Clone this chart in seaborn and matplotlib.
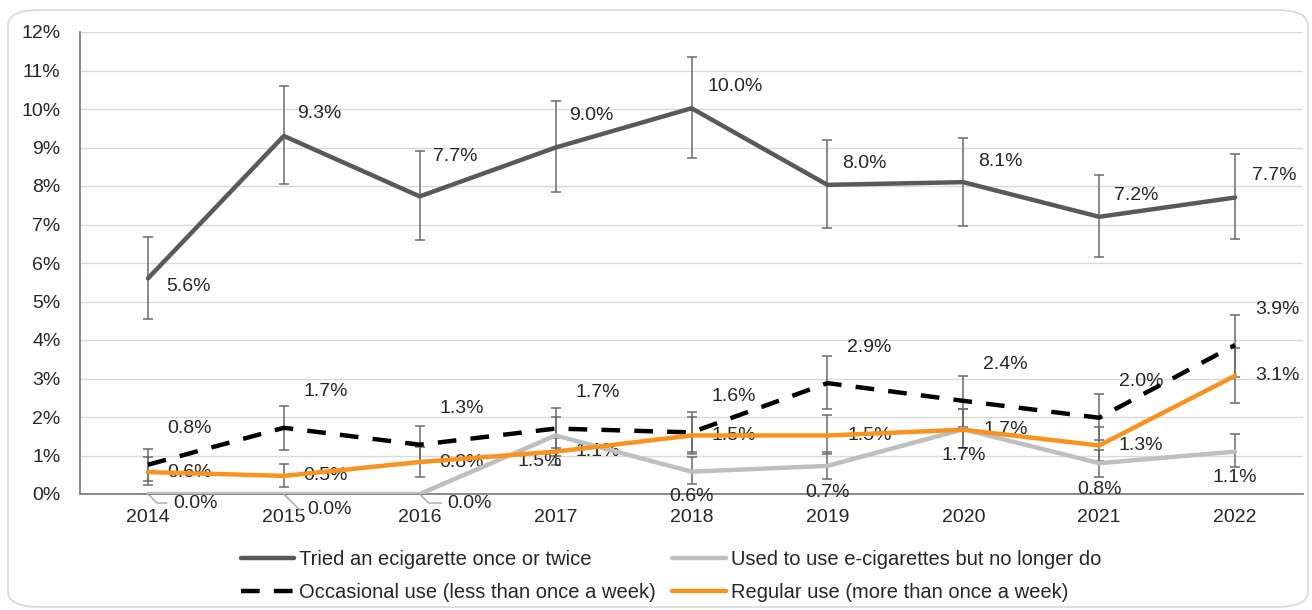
import matplotlib
matplotlib.use('Agg')

import numpy as np
import pandas as pd
import seaborn as sns
import matplotlib.pyplot as plt
from matplotlib.patches import FancyBboxPatch

years = ['2014', '2015', '2016', '2017', '2018', '2019', '2020', '2021', '2022']

tried = [5.6, 9.3, 7.73, 9.0, 10.02, 8.03, 8.1, 7.2, 7.7]
tried_lo = [4.55, 8.05, 6.6, 7.84, 8.73, 6.9, 6.96, 6.16, 6.62]
tried_hi = [6.68, 10.6, 8.9, 10.2, 11.35, 9.2, 9.25, 8.29, 8.83]

used_to = [0.0, 0.0, 0.0, 1.52, 0.58, 0.73, 1.68, 0.8, 1.1]
used_lo = [0.0, 0.0, 0.0, 1.0, 0.25, 0.4, 1.2, 0.45, 0.7]
used_hi = [0.0, 0.0, 0.0, 2.0, 0.95, 1.1, 2.2, 1.15, 1.56]

occasional = [0.76, 1.72, 1.28, 1.7, 1.6, 2.88, 2.42, 1.98, 3.87]
occ_lo = [0.35, 1.14, 0.8, 1.2, 1.1, 2.2, 1.75, 1.4, 3.05]
occ_hi = [1.17, 2.29, 1.77, 2.23, 2.13, 3.58, 3.06, 2.6, 4.65]

regular = [0.57, 0.47, 0.83, 1.1, 1.52, 1.52, 1.67, 1.26, 3.07]
reg_lo = [0.23, 0.18, 0.44, 0.75, 1.05, 1.05, 1.2, 0.85, 2.36]
reg_hi = [0.95, 0.78, 1.22, 1.45, 2.0, 2.05, 2.2, 1.74, 3.79]

names = ['Tried an ecigarette once or twice',
         'Used to use e-cigarettes but no longer do',
         'Occasional use (less than once a week)',
         'Regular use (more than once a week)']

sns.set_style('white')
plt.rcParams['font.family'] = ['Liberation Sans', 'DejaVu Sans']

fig = plt.figure(figsize=(13.12, 6.10), dpi=100)
ax = fig.add_axes([80 / 1312, 1 - 494 / 610, (1303 - 80) / 1312, (494 - 32) / 610])

# outer rounded frame
frame = FancyBboxPatch((8 / 1312, 3 / 610), 1300 / 1312, 597 / 610,
                       boxstyle='round,pad=0,rounding_size=0.025',
                       transform=fig.transFigure, fill=False,
                       edgecolor='#D9D9D9', lw=1.2, zorder=0)
fig.patches.append(frame)

x = np.arange(len(years))
series = [
    (names[0], tried, tried_lo, tried_hi, '#595959', '-'),
    (names[1], used_to, used_lo, used_hi, '#BFBFBF', '-'),
    (names[2], occasional, occ_lo, occ_hi, '#000000', '--'),
    (names[3], regular, reg_lo, reg_hi, '#F7931E', '-'),
]

for name, vals, lo, hi, col, ls in series:
    vals = np.array(vals)
    err = [vals - np.array(lo), np.array(hi) - vals]
    ax.errorbar(x, vals, yerr=err, fmt='none', ecolor='#6b6b6b',
                elinewidth=1.1, capsize=3.5, capthick=1.1, zorder=2)

draw_order = [1, 3, 2, 0]
for i in draw_order:
    name, vals, lo, hi, col, ls = series[i]
    df = pd.DataFrame({'x': x, 'y': vals})
    sns.lineplot(data=df, x='x', y='y', ax=ax, color=col, lw=3.2,
                 label=name, zorder=3 + i)
    if ls == '--':
        ax.lines[-1].set_dashes((4.2, 3.2))

# data labels
fs = 14
tried_off = [(18, -8), (13, 22), (13, 40), (14, 32), (16, 22), (15, 21), (15, 21), (15, 21), (17, 22)]
for xi, v, off in zip(x, tried, tried_off):
    ax.annotate(f'{v:.1f}%', (xi, v), xytext=off, textcoords='offset pixels',
                ha='left', va='center', fontsize=fs)

for xi, v in zip(x, occasional):
    ax.annotate(f'{v:.1f}%', (xi, v), xytext=(42, 36), textcoords='offset pixels',
                ha='center', va='center', fontsize=fs)

for xi, v in zip(x, regular):
    ax.annotate(f'{v:.1f}%', (xi, v), xytext=(42, 0), textcoords='offset pixels',
                ha='center', va='center', fontsize=fs)

used_off = [(25, -9), (23, -16), (28, -9), (-16, -26), (0, -25), (0, -27), (0, -26), (0, -26), (0, -26)]
for xi, v, off in zip(x, used_to, used_off):
    if v == 0:
        ax.annotate(f'{v:.1f}%', (xi, v), xytext=off, textcoords='offset pixels',
                    ha='left', va='center', fontsize=fs,
                    arrowprops=dict(arrowstyle='-', color='#A6A6A6', lw=1,
                                    shrinkA=2, shrinkB=0, relpos=(0, 0.5),
                                    connectionstyle='angle,angleA=0,angleB=-45,rad=0'))
    else:
        ax.annotate(f'{v:.1f}%', (xi, v), xytext=off, textcoords='offset pixels',
                    ha='center', va='center', fontsize=fs)

ax.set_xlim(-0.5, len(years) - 0.5)
ax.set_ylim(0, 12)
ax.set_yticks(np.arange(0, 13, 1))
ax.set_yticklabels([f'{t}%' for t in range(13)], fontsize=fs)
ax.set_xticks(x)
ax.set_xticklabels(years, fontsize=fs)
ax.set_xlabel('')
ax.set_ylabel('')
ax.yaxis.grid(True, color='#D9D9D9', lw=1)
ax.set_axisbelow(True)
ax.tick_params(axis='y', length=0, pad=14)
ax.tick_params(axis='x', length=6, width=1, color='#808080', pad=5, direction='out')
for s in ['top', 'right']:
    ax.spines[s].set_visible(False)
for s in ['left', 'bottom']:
    ax.spines[s].set_color('#808080')
    ax.spines[s].set_linewidth(1.3)

handles, labels = ax.get_legend_handles_labels()
lookup = dict(zip(labels, handles))
order = [names[0], names[2], names[1], names[3]]
ax.get_legend().remove()
fig.legend([lookup[n] for n in order], order, ncol=2, loc='center',
           bbox_to_anchor=(671 / 1312, 1 - 576 / 610), frameon=False,
           fontsize=14.5, handlelength=2.65, handletextpad=0.25,
           columnspacing=0.8, labelspacing=0.7)

fig.savefig('out.png', dpi=100)
plt.close()
